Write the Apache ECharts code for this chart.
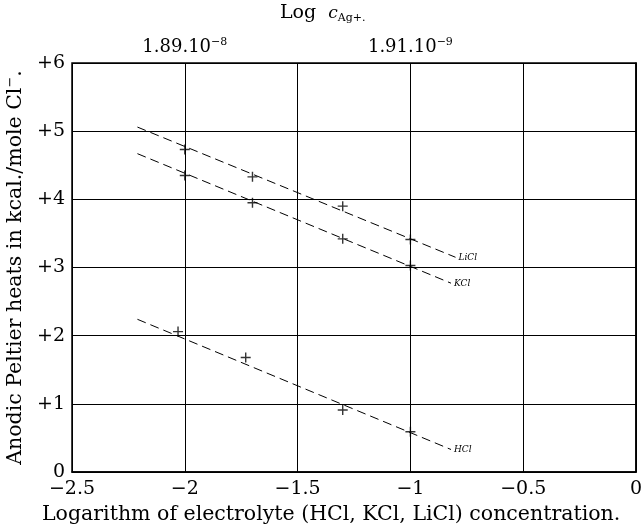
<!DOCTYPE html>
<html>
<head>
<meta charset="utf-8">
<script src="https://cdn.jsdelivr.net/npm/echarts@6/dist/echarts.min.js"></script>
<style>
  html, body { margin: 0; padding: 0; background: #fff; }
  #main { width: 643px; height: 529px; }
</style>
</head>
<body>
<div id="main"></div>
<script>
// measured points (log concentration, kcal/mole)
const logConc = [-2.0, -1.7, -1.3, -1.0];
const liclHeat = [4.73, 4.33, 3.90, 3.41];
const kclHeat = [4.35, 3.95, 3.42, 3.03];
const hclX = [-2.03, -1.73, -1.3, -1.0];
const hclHeat = [2.06, 1.68, 0.91, 0.59];

// dashed fit lines: [x, y] at both ends
const liclFit = [[-2.21, 5.06], [-0.80, 3.15]];
const kclFit = [[-2.21, 4.67], [-0.82, 2.77]];
const hclFit = [[-2.21, 2.24], [-0.82, 0.33]];

// top axis labels (Log c_Ag+)
const topTicks = { '-2': ['1.89.10', '−8'], '-1': ['1.91.10', '−9'] };

const font = 'DejaVu Serif';
const plus = 'path://M4.3,0h1.4v4.3h4.3v1.4h-4.3v4.3h-1.4v-4.3h-4.3v-1.4h4.3z';

let chart = echarts.init(document.getElementById('main'));

function points(xs, ys) {
  return xs.map((x, i) => [x, ys[i]]);
}

function fitLine(name, data) {
  return {
    name: name,
    type: 'line',
    data: data,
    symbol: 'none',
    silent: true,
    lineStyle: { color: '#000', width: 1, type: [9, 5] },
    endLabel: {
      show: true,
      formatter: name,
      fontFamily: font,
      fontStyle: 'italic',
      fontSize: 9,
      color: '#000',
      distance: 3
    }
  };
}

function marks(name, data) {
  return {
    name: name,
    type: 'scatter',
    data: data,
    symbol: plus,
    symbolSize: 10,
    itemStyle: { color: '#000' }
  };
}

const option = {
  animation: false,
  backgroundColor: '#fff',
  grid: {
    left: 72, right: 7, top: 63, bottom: 57,
    outerBoundsMode: 'none',
    containLabel: false,
    show: true, borderColor: '#000', borderWidth: 1.5
  },
  xAxis: [
    {
      type: 'value', min: -2.5, max: 0, interval: 0.5,
      axisLine: { show: true, lineStyle: { color: '#000', width: 1.5 } },
      axisTick: { show: false },
      splitLine: { show: true, lineStyle: { color: '#000', width: 1 } },
      axisLabel: {
        color: '#000', fontFamily: font, fontSize: 19, margin: 8,
        formatter: v => v < 0 ? '−' + String(-v) : String(v)
      }
    },
    {
      type: 'value', position: 'top', min: -2.5, max: 0, interval: 0.5,
      axisLine: { show: false },
      axisTick: { show: false },
      splitLine: { show: false },
      axisLabel: {
        color: '#000', fontFamily: font, fontSize: 18, margin: 6,
        formatter: v => topTicks[String(v)] ? topTicks[String(v)][0] + '{s|' + topTicks[String(v)][1] + '}' : '',
        rich: { s: { fontFamily: font, fontSize: 11, verticalAlign: 'top', padding: [0, 0, 9, 0] } }
      }
    }
  ],
  yAxis: {
    type: 'value', min: 0, max: 6, interval: 1,
    axisLine: { show: true, lineStyle: { color: '#000', width: 1.5 } },
    axisTick: { show: false },
    splitLine: { show: true, lineStyle: { color: '#000', width: 1 } },
    axisLabel: {
      color: '#000', fontFamily: font, fontSize: 19, margin: 7,
      formatter: v => v > 0 ? '+' + v : String(v)
    },
    name: 'Anodic Peltier heats in kcal./mole Cl{s|−}.',
    nameLocation: 'middle',
    nameGap: 43,
    nameTextStyle: {
      color: '#000', fontFamily: font, fontSize: 20.5,
      rich: { s: { fontFamily: font, fontSize: 13, padding: [0, 0, 10, 0] } }
    }
  },
  graphic: [
    {
      type: 'text', left: 280, top: 4,
      style: {
        text: 'Log  {i|c}{s|Ag+.}',
        fontFamily: font, fontSize: 19, fill: '#000',
        rich: {
          i: { fontFamily: font, fontStyle: 'italic', fontSize: 17 },
          s: { fontFamily: font, fontSize: 11, padding: [9, 0, 0, 0] }
        }
      }
    },
    {
      type: 'text', left: 42, bottom: 4,
      style: {
        text: 'Logarithm of electrolyte (HCl, KCl, LiCl) concentration.',
        fontFamily: font, fontSize: 20.5, fill: '#000'
      }
    }
  ],
  series: [
    fitLine('LiCl', liclFit),
    fitLine('KCl', kclFit),
    fitLine('HCl', hclFit),
    marks('LiCl pts', points(logConc, liclHeat)),
    marks('KCl pts', points(logConc, kclHeat)),
    marks('HCl pts', points(hclX, hclHeat))
  ]
};

chart.setOption(option);
</script>
</body>
</html>
